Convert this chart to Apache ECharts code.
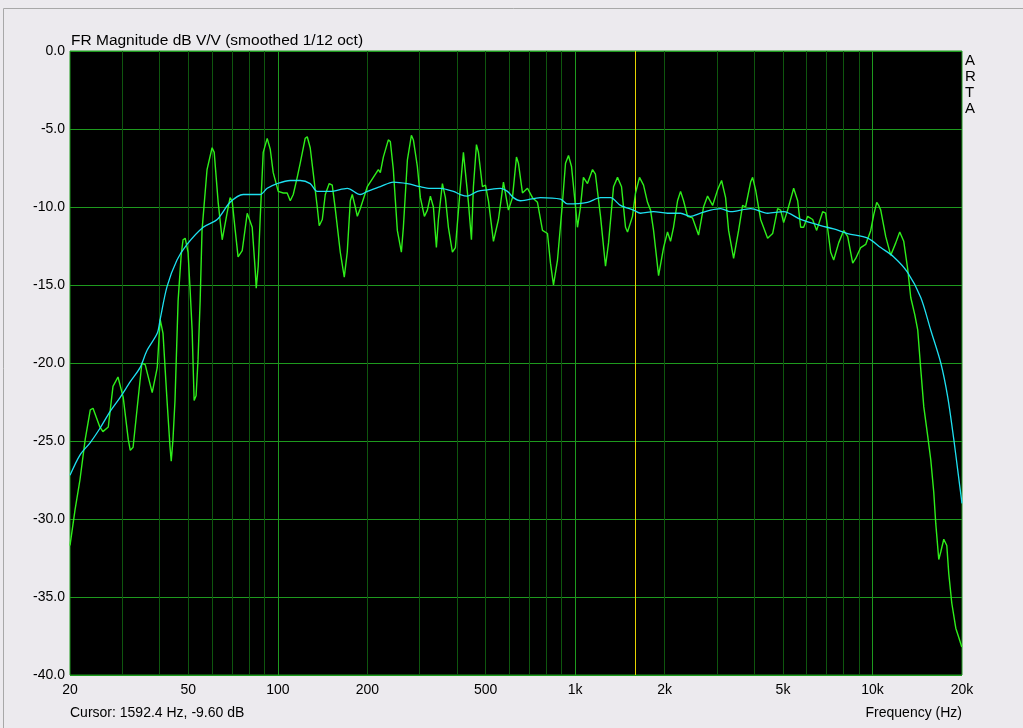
<!DOCTYPE html>
<html>
<head>
<meta charset="utf-8">
<script src="https://cdn.jsdelivr.net/npm/echarts@6/dist/echarts.min.js"></script>
<style>
html,body{margin:0;padding:0;background:#ECEAEE;}
#c{width:1023px;height:728px;}
</style>
</head>
<body>
<div id="c"></div>
<script>
// Raw response, 1/12 octave smoothing (green)
const greenFreq = [20,20.8,21.6,22.5,23.4,23.9,25.2,25.8,26.9,27.9,29.0,30.2,31.4,31.9,32.6,33.6,34.9,35.8,37.8,39.3,40.2,41.1,42.4,43.4,43.8,44.4,45.1,46.2,47.3,48.0,48.8,49.9,50.7,51.5,52.3,53.1,53.9,54.8,55.6,57.8,60.1,61.1,63.0,65.0,66.0,67.5,69.1,70.2,71.9,73.5,75.9,78.9,80.1,82.0,83.9,84.6,85.9,87.2,89.3,92.1,94.3,96.5,100.3,104.3,107.5,110.1,112.7,116.2,118.9,123.6,125.6,128.5,131.5,135.7,137.8,141.1,144.4,148.9,152.4,156.0,162.2,167.3,171.2,175.3,178.0,182.2,185.1,189.4,200.0,209.5,217.8,221.2,226.4,235.3,239.0,244.6,252.3,260.3,264.4,272.7,281.3,285.7,294.6,301.6,311.1,318.4,325.9,333.6,341.4,346.7,357.7,366.1,374.7,386.5,395.6,411.2,420.9,427.4,437.5,447.9,454.8,465.6,472.8,487.7,499.2,510.9,531.1,552.1,573.9,582.8,596.5,615.4,634.7,644.6,664.9,691.2,718.5,746.9,776.4,807.1,826.1,845.5,872.1,906.6,928.0,949.7,972.1,1003,1018,1042,1066,1100,1144,1170,1217,1265,1295,1346,1388,1432,1477,1500,1559,1596,1646,1698,1751,1793,1835,1908,1983,2045,2093,2142,2210,2262,2315,2388,2482,2600,2703,2788,2899,3013,3108,3206,3281,3411,3546,3657,3743,3891,3952,4045,4205,4439,4615,4797,4910,5025,5183,5431,5602,5733,5868,6052,6292,6490,6799,6959,7234,7404,7696,8001,8252,8579,8781,9128,9489,9864,10096,10334,10494,10659,11080,11518,11973,12350,12738,13139,13449,13873,14198,14533,14875,15342,15704,16073,16324,16707,16970,17369,17778,18054,18481,19062,19510,19970];
const greenDb = [-31.7,-29.4,-27.5,-24.9,-23.0,-22.9,-24.1,-24.4,-24.1,-21.5,-20.9,-22.2,-24.9,-25.6,-25.4,-23.0,-20.0,-20.1,-21.9,-20.3,-17.2,-18.1,-22.4,-25.4,-26.3,-24.9,-22.4,-16.0,-13.1,-12.1,-12.0,-12.9,-15.3,-17.9,-22.4,-22.1,-19.8,-16.0,-11.5,-7.6,-6.2,-6.5,-9.7,-12.1,-12.0,-10.4,-9.4,-9.6,-11.5,-13.2,-12.8,-10.4,-10.3,-11.3,-14.0,-15.2,-13.8,-10.8,-6.5,-5.6,-6.3,-7.8,-9.0,-9.1,-9.1,-9.6,-9.2,-8.1,-7.2,-5.6,-5.5,-6.2,-7.8,-10.0,-11.2,-10.8,-9.2,-8.5,-8.6,-10.1,-12.9,-14.5,-12.9,-9.6,-9.2,-10.0,-10.6,-10.1,-8.7,-8.1,-7.6,-7.8,-6.8,-5.7,-5.8,-7.6,-11.5,-12.9,-11.3,-7.0,-5.4,-5.7,-7.4,-9.4,-10.6,-10.2,-9.3,-10.0,-12.6,-10.8,-8.5,-9.4,-11.3,-12.9,-12.6,-8.7,-6.5,-6.5,-9.7,-12.1,-8.7,-6.0,-6.5,-8.7,-8.6,-9.6,-12.2,-10.8,-8.4,-8.5,-10.2,-9.4,-6.8,-7.2,-9.1,-8.8,-9.4,-9.7,-11.5,-11.7,-13.6,-15.0,-13.4,-9.7,-7.2,-6.7,-7.4,-10.0,-11.3,-10.0,-8.1,-8.5,-7.6,-7.9,-10.6,-13.8,-12.3,-8.7,-8.1,-8.7,-11.3,-11.6,-10.6,-9.1,-8.1,-8.6,-9.7,-10.2,-11.5,-14.4,-12.6,-11.6,-12.2,-11.3,-9.6,-9.0,-9.6,-10.6,-10.7,-11.8,-10.0,-9.3,-9.9,-8.9,-8.3,-9.4,-11.5,-13.3,-11.5,-9.9,-10.0,-8.4,-8.1,-8.9,-10.8,-12.0,-11.7,-10.1,-10.2,-11.0,-10.2,-8.8,-9.6,-11.3,-11.3,-10.6,-10.8,-11.5,-10.3,-10.4,-12.9,-13.4,-12.3,-11.5,-11.9,-13.6,-13.3,-12.6,-12.4,-11.5,-10.5,-9.7,-9.9,-10.2,-11.9,-13.1,-12.3,-11.6,-12.2,-14.0,-15.8,-16.9,-17.9,-20.4,-22.8,-24.7,-26.2,-28.3,-30.3,-32.6,-32.1,-31.3,-31.7,-33.5,-35.4,-37.0,-37.6,-38.2];

// Heavily smoothed response (cyan)
const cyanFreq = [20,21.6,23.4,25.2,27.3,29.5,31.9,34.4,36.3,39.3,40.2,42.4,45.8,49.5,56.1,62.5,69.1,76.5,87.2,92.1,99.5,110.1,118.9,128.5,135.7,150.1,171.2,189.4,200,221.2,244.6,272.7,301.6,325.9,352.2,389.5,411.2,434.1,469.2,506.9,560.7,591.9,620.1,654.7,764.5,892.7,942.4,1100,1217,1315,1421,1571,1659,1835,2045,2262,2444,2641,2854,3084,3333,3891,4439,5025,5733,6695,7404,8252,9636,10659,11789,13139,14533,15704,16970,17915,18769,19359,20000];
const cyanDb = [-27.2,-25.9,-25.1,-24.2,-23.1,-22.2,-21.2,-20.3,-19.2,-18.1,-17.2,-15.1,-13.4,-12.4,-11.3,-10.8,-9.7,-9.2,-9.2,-8.8,-8.5,-8.3,-8.3,-8.5,-9.0,-9.0,-8.8,-9.2,-9.0,-8.7,-8.4,-8.5,-8.7,-8.8,-8.8,-9.0,-9.2,-9.3,-9.0,-8.9,-8.8,-9.0,-9.4,-9.6,-9.4,-9.5,-9.8,-9.7,-9.4,-9.4,-9.9,-10.2,-10.4,-10.3,-10.4,-10.4,-10.6,-10.4,-10.2,-10.1,-10.3,-10.1,-10.4,-10.3,-10.8,-11.2,-11.4,-11.7,-12.0,-12.6,-13.2,-14.2,-15.8,-17.9,-20.0,-22.2,-24.9,-26.9,-29.0];

const xMinorGrid = [30,40,50,60,70,80,90,200,300,400,500,600,700,800,900,2000,3000,4000,5000,6000,7000,8000,9000];
const xMajorGrid = [100,1000,10000];
const xLabelValues = [20,50,100,200,500,1000,2000,5000,10000,20000];
const yMin = -40, yMax = 0, yStep = 5;
const cursorFreq = 1592.4;
const titleText = 'FR Magnitude dB V/V (smoothed 1/12 oct)';
const cursorText = 'Cursor: 1592.4 Hz, -9.60 dB';
const xAxisName = 'Frequency (Hz)';
const brandText = 'A\nR\nT\nA';

const zip = (a, b) => a.map((v, i) => [v, b[i]]);

const chart = echarts.init(document.getElementById('c'), null, {renderer: 'canvas'});
const FONT = '"Liberation Sans", Arial, sans-serif';

function vLines(values, color, z) {
  return {
    type: 'lines', coordinateSystem: 'cartesian2d', z: z, silent: true, polyline: false,
    lineStyle: {type: 'solid', width: 1, color: color, opacity: 1, curveness: 0},
    emphasis: {disabled: true},
    data: values.map(v => ({coords: [[v, yMin], [v, yMax]]}))
  };
}

chart.setOption({
  backgroundColor: '#ECEAEE',
  animation: false,
  grid: {left: 70, top: 51, right: 61, bottom: 53, show: true, backgroundColor: '#000000', borderColor: '#1E9A1E', borderWidth: 1, containLabel: false},
  xAxis: {
    type: 'log', logBase: 10, min: 20, max: 20000,
    axisLine: {show: false}, axisTick: {show: false},
    splitLine: {show: false},
    axisLabel: {
      customValues: xLabelValues, color: '#000', fontFamily: FONT, fontSize: 14, margin: 8,
      formatter: v => v >= 1000 ? (Math.round(v / 1000) + 'k') : String(Math.round(v))
    }
  },
  yAxis: {
    type: 'value', min: yMin, max: yMax, interval: yStep,
    axisLine: {show: false}, axisTick: {show: false},
    splitLine: {show: true, lineStyle: {color: '#1E9A1E', width: 1}},
    axisLabel: {color: '#000', fontFamily: FONT, fontSize: 14, margin: 5, formatter: v => v.toFixed(1)}
  },
  series: [
    vLines(xMinorGrid, '#0E560E', 1),
    vLines(xMajorGrid, '#1E9A1E', 1),
    vLines([cursorFreq], '#E6D200', 2),
    {
      type: 'line', data: zip(greenFreq, greenDb), z: 3, showSymbol: false, smooth: false,
      lineStyle: {color: '#2EEE1A', width: 1.4}, itemStyle: {color: '#2EEE1A'}
    },
    {
      type: 'line', data: zip(cyanFreq, cyanDb), z: 4, showSymbol: false, smooth: 0.3,
      lineStyle: {color: '#1EE0F0', width: 1.3}, itemStyle: {color: '#1EE0F0'}
    }
  ],
  graphic: [
    {type: 'rect', shape: {x: 3.5, y: 8.5, width: 1030, height: 730}, style: {fill: null, stroke: '#A8A8A8', lineWidth: 1}, z: -1},
    {type: 'text', left: 71, top: 33, style: {text: titleText, font: '15.5px ' + FONT, fill: '#000'}},
    {type: 'text', left: 70, top: 706, style: {text: cursorText, font: '14px ' + FONT, fill: '#000'}},
    {type: 'text', right: 61, top: 706, style: {text: xAxisName, font: '14px ' + FONT, fill: '#000'}},
    {type: 'text', left: 965, top: 53, style: {text: brandText, font: '15px ' + FONT, fill: '#000', lineHeight: 16, align: 'left'}}
  ]
});
</script>
</body>
</html>
